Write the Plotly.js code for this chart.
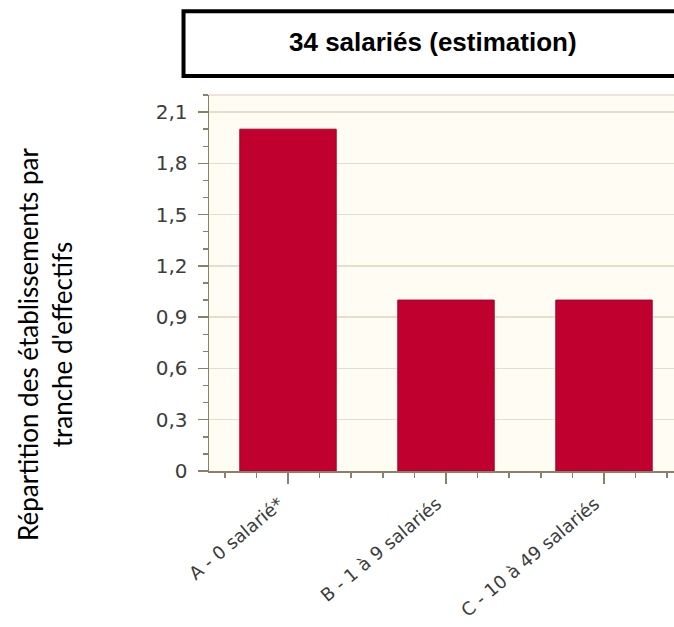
<!DOCTYPE html>
<html>
<head>
<meta charset="utf-8">
<script src="https://cdn.plot.ly/plotly-3.0.1.min.js"></script>
<style>html,body{margin:0;padding:0;background:#fff;overflow:hidden}</style>
</head>
<body>
<div id="chart" style="width:674px;height:627px"></div>
<script>
const categories = ["A - 0 salarié*", "B - 1 à 9 salariés", "C - 10 à 49 salariés"];
const positions = [0, 1, 2];
const values = [2, 1, 1];
const chartTitle = "34 salariés (estimation)";
const yTitle = "Répartition des établissements par<br>tranche d'effectifs";

const axisColor = "#8c8068";
const gridColor = "#e6ddca";
const tickFont = {family: "DejaVu Sans, Verdana, sans-serif", size: 18, color: "#3c3c3c"};

const data = [{
  type: "bar",
  x: positions,
  y: values,
  width: 0.61,
  marker: {color: "#c0002f", line: {color: "#a3002a", width: 1}},
  hoverinfo: "x+y"
}];

const layout = {
  width: 674, height: 627,
  margin: {l: 209, r: 0, t: 95, b: 156},
  paper_bgcolor: "#ffffff",
  plot_bgcolor: "#fffcf4",
  separators: ", ",
  showlegend: false,
  xaxis: {
    range: [-0.5, 2.443],
    tickvals: positions,
    ticktext: categories,
    tickangle: -40,
    tickfont: tickFont,
    ticklabelshift: -9,
    ticklabelstandoff: 3,
    ticks: "outside", ticklen: 11, tickwidth: 1.5, tickcolor: axisColor,
    minor: {tick0: 0, dtick: 0.2, ticks: "outside", ticklen: 5, tickwidth: 1.5, tickcolor: axisColor, showgrid: false},
    showline: true, linecolor: axisColor, linewidth: 1.5,
    showgrid: false, zeroline: false, fixedrange: true
  },
  yaxis: {
    range: [0, 2.2],
    tick0: 0, dtick: 0.3,
    tickfont: Object.assign({}, tickFont, {size: 20}),
    ticklabelstandoff: 6,
    ticks: "outside", ticklen: 10, tickwidth: 1.5, tickcolor: axisColor,
    minor: {tick0: 0, dtick: 0.1, ticks: "outside", ticklen: 5, tickwidth: 1.5, tickcolor: axisColor, showgrid: false},
    showline: true, linecolor: axisColor, linewidth: 1.5,
    showgrid: true, gridcolor: gridColor, gridwidth: 1.5,
    zeroline: false, fixedrange: true
  },
  shapes: [
    {type: "line", xref: "paper", yref: "paper", x0: 0, x1: 1, y0: 1, y1: 1,
     line: {color: gridColor, width: 1.5}},
    {type: "rect", xref: "paper", yref: "paper", x0: -0.0548, x1: 1.06, y0: 1.0505, y1: 1.2228,
     line: {color: "#000000", width: 4}, fillcolor: "rgba(0,0,0,0)"}
  ],
  annotations: [
    {text: "<b>" + chartTitle + "</b>", xref: "paper", yref: "paper", x: 0.4817, y: 1.142,
     xanchor: "center", yanchor: "middle", showarrow: false,
     font: {family: "Liberation Sans, Arial, sans-serif", size: 26, color: "#000000"}},
    {text: yTitle, xref: "paper", yref: "paper", x: -0.3527, y: 0.3378,
     xanchor: "center", yanchor: "middle", showarrow: false, textangle: -90,
     font: {family: "Lato, Open Sans, sans-serif", size: 26, color: "#000000"}}
  ]
};

Plotly.newPlot("chart", data, layout, {displayModeBar: false, staticPlot: true});
</script>
</body>
</html>
